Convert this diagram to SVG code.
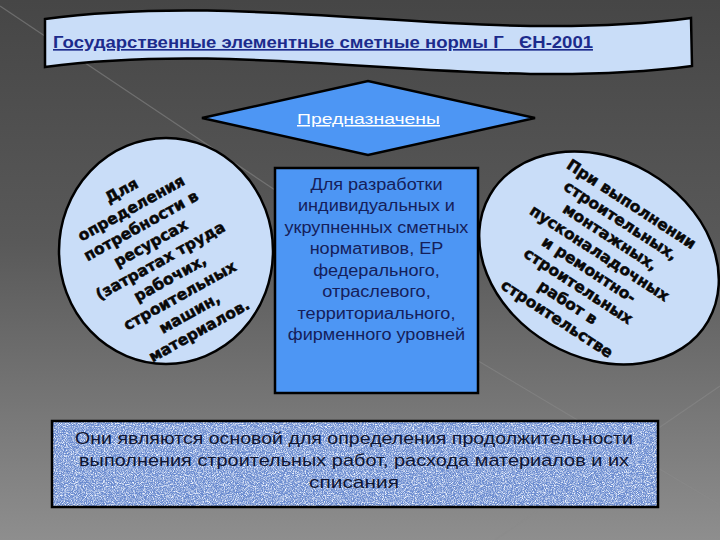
<svg xmlns="http://www.w3.org/2000/svg" width="720" height="540" viewBox="0 0 720 540">
  <defs>
    <linearGradient id="bg" x1="0" y1="0" x2="0" y2="1">
      <stop offset="0" stop-color="#464646"/>
      <stop offset="0.45" stop-color="#595959"/>
      <stop offset="1" stop-color="#8e8e8e"/>
    </linearGradient>
    <filter id="speckle" x="0" y="0" width="100%" height="100%">
      <feTurbulence type="fractalNoise" baseFrequency="1.1" numOctaves="2" seed="7" result="n"/>
      <feColorMatrix in="n" type="matrix" values="0 0 0 0 0.88  0 0 0 0 0.92  0 0 0 0 1  0 0 0 2.6 -1.0" result="w"/>
      <feComposite in="w" in2="SourceGraphic" operator="in"/>
    </filter>
    <filter id="speckleDark" x="0" y="0" width="100%" height="100%">
      <feTurbulence type="fractalNoise" baseFrequency="1.3" numOctaves="1" seed="21" result="n"/>
      <feColorMatrix in="n" type="matrix" values="0 0 0 0 0.15  0 0 0 0 0.25  0 0 0 0 0.55  0 0 0 -2.6 1.2" result="d"/>
      <feComposite in="d" in2="SourceGraphic" operator="in"/>
    </filter>
  </defs>
  <style>
    .shape { stroke: #000; stroke-width: 2.5; }
    .light { fill: #c9ddf8; }
    .blue { fill: #4d96f4; }
    .heavy { font-family: "DejaVu Sans", "Liberation Sans", sans-serif; font-weight: bold; font-size: 15.5px; fill: #080808; stroke: #080808; stroke-width: 0.5; text-anchor: middle; }
    .body { font-family: "Liberation Sans", Arial, sans-serif; font-size: 16px; fill: #15205a; text-anchor: middle; }
    .gothic { font-family: "Liberation Sans", Arial, sans-serif; }
    .faint { stroke: #8a8a8a; stroke-width: 1.2; opacity: 0.55; fill: none; }
  </style>

  <rect x="0" y="0" width="720" height="540" fill="url(#bg)"/>
  <g id="background-lines">
    <path class="faint" d="M0 6 L290 200"/>
    <path class="faint" d="M470 356 L720 505"/>
    <path class="faint" d="M720 386 L495 540"/>
  </g>

  <g id="title">
    <path class="shape light" d="M45 19 C260 -10 475 46 691 18 L692 66 C475 94 260 38 45 67 Z"/>
    <text class="gothic" x="53" y="48" font-size="16.5" font-weight="bold" fill="#1c2b8c" text-decoration="underline" textLength="540" lengthAdjust="spacingAndGlyphs" xml:space="preserve">Государственные элементные сметные нормы Г   ЄН-2001</text>
  </g>

  <g id="purpose">
    <polygon class="shape blue" stroke-width="3" points="202,118 368,81 535,118 368,155"/>
    <text class="gothic" x="297" y="124" font-size="15" fill="#ffffff" text-decoration="underline" textLength="143" lengthAdjust="spacingAndGlyphs">Предназначены</text>
  </g>

  <g id="left-circle">
    <ellipse class="shape light" cx="166" cy="251" rx="107" ry="113"/>
    <g transform="translate(160,260) rotate(-29)">
      <text class="heavy" x="0" y="-74">Для</text>
      <text class="heavy" x="0" y="-54">определения</text>
      <text class="heavy" x="0" y="-34">потребности в</text>
      <text class="heavy" x="0" y="-14">ресурсах</text>
      <text class="heavy" x="0" y="6">(затратах труда</text>
      <text class="heavy" x="0" y="26">рабочих,</text>
      <text class="heavy" x="0" y="46">строительных</text>
      <text class="heavy" x="0" y="66">машин,</text>
      <text class="heavy" x="0" y="86">материалов.</text>
    </g>
  </g>

  <g id="center-box">
    <rect class="shape blue" x="275" y="168" width="203" height="225"/>
    <g transform="translate(376.5,0) scale(1.13,1) translate(-376.5,0)">
      <text class="body" x="376.5" y="190">Для разработки</text>
      <text class="body" x="376.5" y="211.5">индивидуальных и</text>
      <text class="body" x="376.5" y="233">укрупненных сметных</text>
      <text class="body" x="376.5" y="254.5">нормативов, ЕР</text>
      <text class="body" x="376.5" y="276">федерального,</text>
      <text class="body" x="376.5" y="297.5">отраслевого,</text>
      <text class="body" x="376.5" y="319">территориального,</text>
      <text class="body" x="376.5" y="340.5">фирменного уровней</text>
    </g>
  </g>

  <g id="right-ellipse">
    <ellipse class="shape light" cx="599" cy="258" rx="126" ry="99" transform="rotate(30 599 258)"/>
    <g transform="translate(594.5,261) rotate(33)">
      <text class="heavy" x="0" y="-62.5">При выполнении</text>
      <text class="heavy" x="0" y="-43">строительных,</text>
      <text class="heavy" x="0" y="-23.5">монтажных,</text>
      <text class="heavy" x="0" y="-4">пусконаладочных</text>
      <text class="heavy" x="0" y="15.5">и ремонтно-</text>
      <text class="heavy" x="0" y="35">строительных</text>
      <text class="heavy" x="0" y="54.5">работ в</text>
      <text class="heavy" x="0" y="74">строительстве</text>
    </g>
  </g>

  <g id="conclusion">
    <rect x="52" y="421" width="606" height="86" fill="#6a8bd0"/>
    <rect x="52" y="421" width="606" height="86" fill="#6a8bd0" filter="url(#speckle)"/>
    <rect x="52" y="421" width="606" height="86" fill="#6a8bd0" filter="url(#speckleDark)"/>
    <rect class="shape" x="52" y="421" width="606" height="86" fill="none"/>
    <g class="gothic" font-size="17" fill="#0e1430" text-anchor="middle">
      <text x="354" y="444" textLength="558" lengthAdjust="spacingAndGlyphs">Они являются основой для определения продолжительности</text>
      <text x="354" y="466" textLength="550" lengthAdjust="spacingAndGlyphs">выполнения строительных работ, расхода материалов и их</text>
      <text x="354" y="488" textLength="90" lengthAdjust="spacingAndGlyphs">списания</text>
    </g>
  </g>
</svg>
